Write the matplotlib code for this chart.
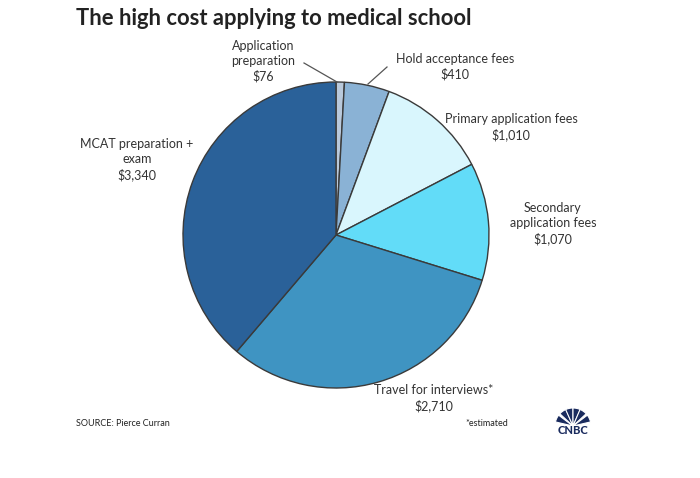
import numpy as np
import matplotlib.pyplot as plt
from matplotlib.patches import Wedge

plt.rcParams['font.family'] = ['Lato', 'DejaVu Sans']

# slices, clockwise from 12 o'clock
categories = ['Application preparation', 'Hold acceptance fees', 'Primary application fees',
              'Secondary application fees', 'Travel for interviews*', 'MCAT preparation + exam']
costs = [76, 410, 1010, 1070, 2710, 3340]
colors = ['#b9c9db', '#8ab2d5', '#d9f6fd', '#62dcf8', '#3f94c2', '#2a6199']

label_texts = ['Application\npreparation\n$76', 'Hold acceptance fees\n$410',
               'Primary application fees\n$1,010', 'Secondary\napplication fees\n$1,070',
               'Travel for interviews*\n$2,710', 'MCAT preparation +\nexam\n$3,340']

W, H = 700, 478
fig = plt.figure(figsize=(W / 100, H / 100), dpi=100)
ax = fig.add_axes([0, 0, 1, 1])

cx, cy, r = 336, H - 235, 153
ax.pie(costs, colors=colors, startangle=90, counterclock=False, center=(cx, cy), radius=r,
       wedgeprops=dict(edgecolor='#3a3a3a', linewidth=1.0), frame=True)
ax.set_xlim(0, W)
ax.set_ylim(0, H)
ax.set_aspect('equal')
ax.axis('off')

label_pos = [(263, 61), (455, 67), (511, 127), (553, 224), (434, 398), (137, 160)]
for txt, (x, y) in zip(label_texts, label_pos):
    ax.text(x, H - y, txt, ha='center', va='center', fontsize=9, color='#333333',
            linespacing=1.3)

# leader lines for the two thin slices
ax.plot([304, 337], [H - 63, H - 82], color='#555555', lw=0.9)
ax.plot([387, 368], [H - 67, H - 84], color='#555555', lw=0.9)

ax.text(76, H - 18, 'The high cost applying to medical school', ha='left', va='center',
        fontsize=15.8, fontweight='bold', color='#222222')
ax.text(76, H - 423, 'SOURCE: Pierce Curran', ha='left', va='center', fontsize=6.5, color='#222222')
ax.text(465, H - 423, '*estimated', ha='left', va='center', fontsize=6.5, color='#222222')

# small CNBC peacock mark
px, py = 573, H - 426
for ang in [155, 125, 102, 78, 55, 25]:
    ax.add_patch(Wedge((px, py), 18, ang - 12, ang + 12, facecolor='#1a2b5e',
                       edgecolor='white', lw=0.8))
ax.text(px, H - 431, 'CNBC', ha='center', va='center', fontsize=8, fontweight='black',
        color='#1a2b5e')

fig.savefig('out.png', dpi=100)
